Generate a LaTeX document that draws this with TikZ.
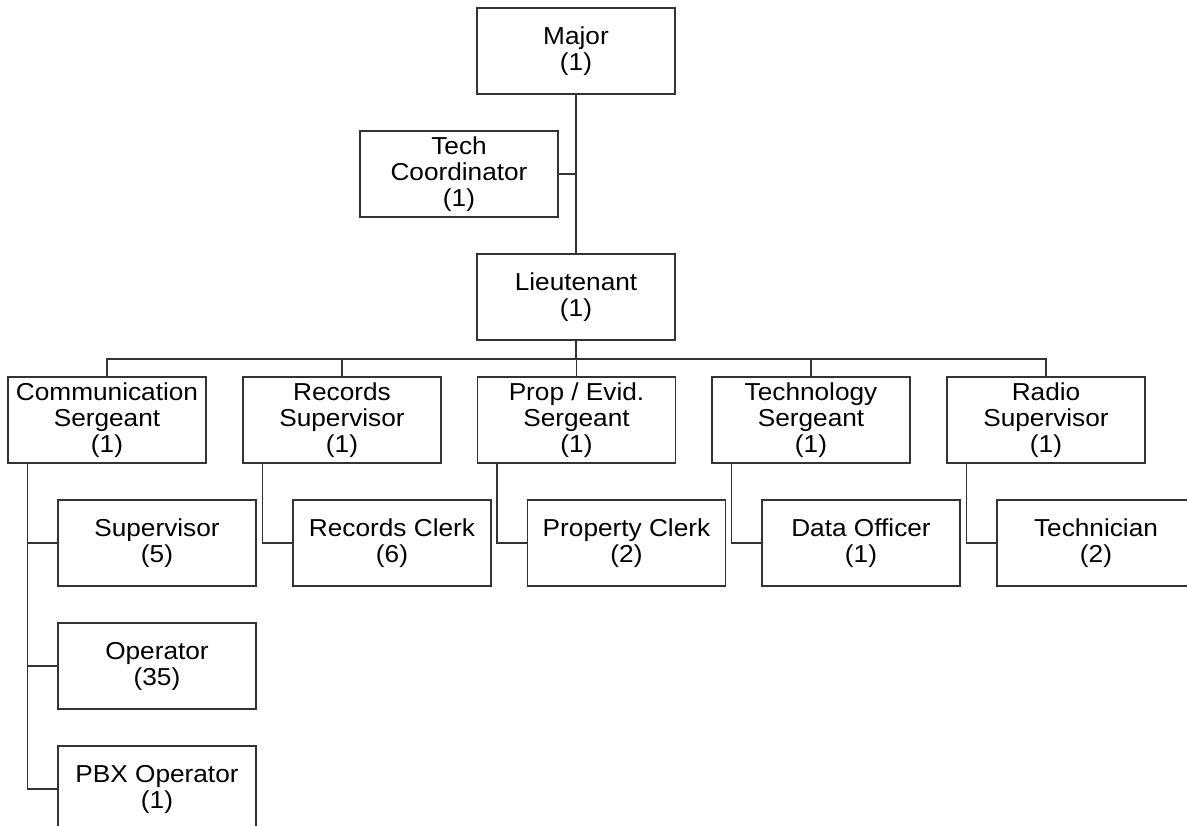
\documentclass[tikz,border=0pt]{standalone}
\usepackage{fontspec}
\setmainfont{Liberation Sans}
\newfontfamily\orgfont[FakeStretch=1.07]{Liberation Sans}
\begin{document}
\begin{tikzpicture}[x=1pt,y=-1pt,
  unit/.style={draw=black!80, line width=1.1pt, rectangle, minimum width=198pt,
    minimum height=86pt, inner sep=0pt, align=center,
    font=\orgfont\fontsize{24.5}{26}\selectfont},
  link/.style={draw=black!80, line width=1.1pt}]
\useasboundingbox (0,0) rectangle (1187,826);
\clip (0,0) rectangle (1187,826);
\fill[white] (0,0) rectangle (1187,826);

% command level
\node[unit] (major) at (576,51)  {Major\\(1)};
\node[unit] (tc)    at (459,174) {Tech\\Coordinator\\(1)};
\node[unit] (lt)    at (576,297) {Lieutenant\\(1)};

% section heads
\node[unit] (comm)  at (107,420)   {Communication\\Sergeant\\(1)};
\node[unit] (rec)   at (342,420)   {Records\\Supervisor\\(1)};
\node[unit] (prop)  at (576.5,420) {Prop / Evid.\\Sergeant\\(1)};
\node[unit] (tech)  at (811,420)   {Technology\\Sergeant\\(1)};
\node[unit] (radio) at (1046,420)  {Radio\\Supervisor\\(1)};

% staff
\node[unit] (sup)   at (157,543)    {Supervisor\\(5)};
\node[unit] (op)    at (157,666)    {Operator\\(35)};
\node[unit] (pbx)   at (157,789)    {PBX Operator\\(1)};
\node[unit] (clerk) at (392,543)    {Records Clerk\\(6)};
\node[unit] (pclk)  at (626.5,543)  {Property Clerk\\(2)};
\node[unit] (data)  at (861,543)    {Data Officer\\(1)};
\node[unit] (techn) at (1096,543)   {Technician\\(2)};

% chain of command
\coordinate (busy) at (0,359);
\draw[link] (major.south) -- (lt.north);
\draw[link] (tc.east) -- (tc.east -| major.south);
\draw[link] (lt.south) -- (lt.south |- busy);
\draw[link] (comm.north) -- (comm.north |- busy) -- (radio.north |- busy) -- (radio.north);
\foreach \n in {rec,prop,tech}
  \draw[link] (\n.north) -- (\n.north |- busy);

% staff connectors
\draw[link] ([xshift=20pt]comm.south west) coordinate (s) |- (pbx.west);
\draw[link] (s |- sup.west) -- (sup.west);
\draw[link] (s |- op.west) -- (op.west);
\draw[link] ([xshift=20pt]rec.south west) |- (clerk.west);
\draw[link] ([xshift=20pt]prop.south west) |- (pclk.west);
\draw[link] ([xshift=20pt]tech.south west) |- (data.west);
\draw[link] ([xshift=20pt]radio.south west) |- (techn.west);
\end{tikzpicture}
\end{document}
